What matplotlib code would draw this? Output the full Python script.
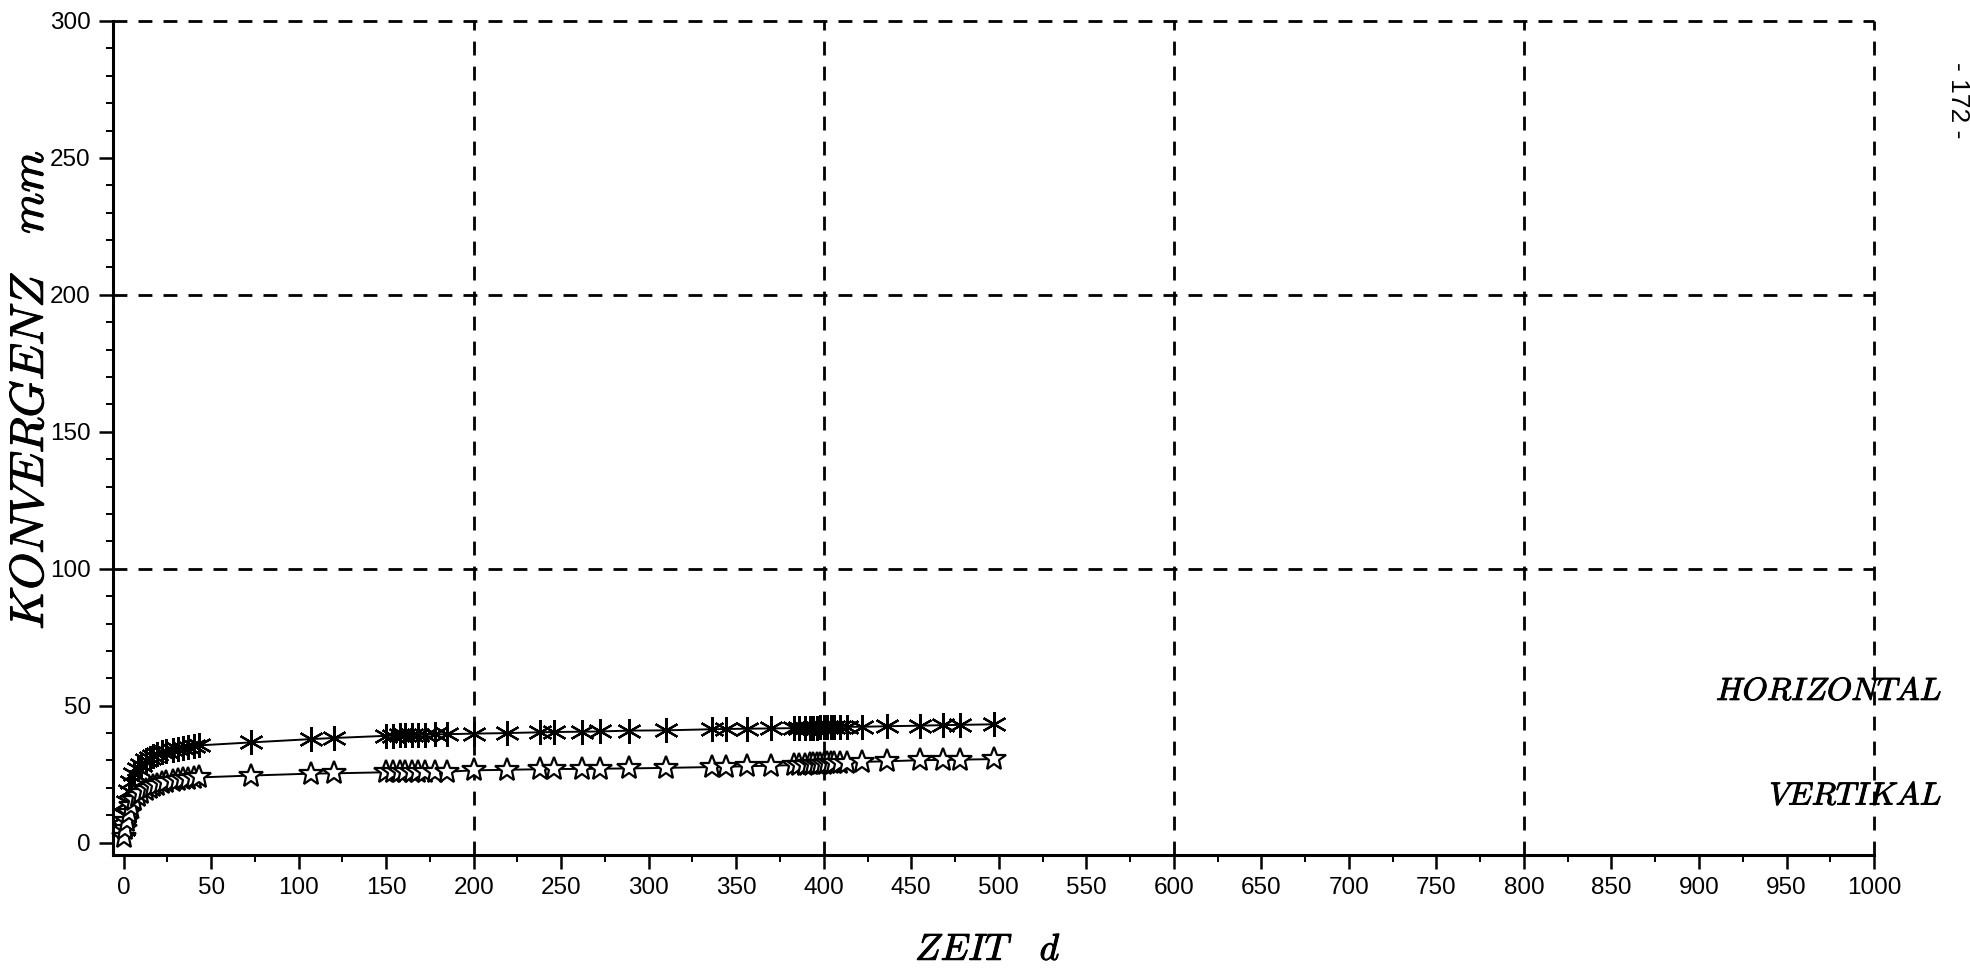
import matplotlib
matplotlib.use("Agg")
import matplotlib.pyplot as plt
import matplotlib.patheffects as pe
from matplotlib.ticker import MultipleLocator

plt.rcParams['mathtext.fontset'] = 'cm'
plt.rcParams['font.family'] = ['Liberation Sans', 'DejaVu Sans']

# measurement days (both series measured at the same times)
zeit = [0, 1, 2, 3, 4, 6, 8, 10, 13, 15, 17, 19, 22, 24, 28, 31, 34, 37, 40, 43,
        73, 107, 120, 150, 154, 158, 161, 165, 168, 172, 178, 185, 200, 219, 238,
        246, 262, 272, 289, 310, 336, 344, 356, 370, 383, 386, 389, 392, 394, 396,
        398, 400, 402, 404, 406, 409, 413, 422, 436, 455, 468, 478, 497]

horizontal = [5, 10, 15, 19, 22, 25, 27, 28.5, 30, 31, 31.8, 32.3, 33, 33.4, 34,
              34.3, 34.7, 35, 35.2, 35.5, 36.6, 37.8, 38.2, 39.0, 39.1, 39.2, 39.2,
              39.3, 39.4, 39.4, 39.5, 39.6, 39.8, 40.0, 40.3, 40.4, 40.5, 40.6, 40.9,
              41.0, 41.4, 41.5, 41.6, 41.7, 41.8, 41.9, 41.9, 42.0, 42.0, 42.0, 42.1,
              42.1, 42.1, 42.2, 42.2, 42.2, 42.3, 42.3, 42.5, 42.7, 42.9, 43.0, 43.2]

vertikal = [2, 5, 8, 11, 13.5, 15.5, 17, 18, 19.3, 20, 20.6, 21.1, 21.7, 22, 22.5,
            22.9, 23.2, 23.4, 23.6, 23.8, 24.5, 25.2, 25.3, 25.7, 25.7, 25.8, 25.8,
            25.8, 25.9, 25.9, 25.9, 25.9, 26.4, 26.6, 26.8, 26.9, 26.9, 27.0, 27.1,
            27.3, 27.6, 27.7, 27.9, 28.1, 28.3, 28.4, 28.5, 28.6, 28.6, 28.7, 28.8,
            28.8, 28.9, 28.9, 29.0, 29.1, 29.2, 29.5, 29.7, 30.1, 30.2, 30.3, 30.5]

fig = plt.figure(figsize=(19.7, 9.71), dpi=100)
ax = fig.add_axes([0.0574, 0.1195, 0.8939, 0.8589])

ax.plot(zeit, horizontal, color='black', lw=1.4, marker=(6, 2, 0), ms=18,
        mew=1.6, clip_on=False)
ax.plot(zeit, vertikal, color='black', lw=1.4, marker='*', ms=18,
        mfc='white', mec='black', mew=1.6, clip_on=False)

ax.set_xlim(-6, 1000)
ax.set_ylim(-4.5, 300)

for y in [100, 200, 300]:
    ax.axhline(y, color='black', lw=2, ls=(0, (5, 4)), zorder=0, clip_on=False)
for x in [200, 400, 600, 800, 1000]:
    ax.axvline(x, color='black', lw=2, ls=(0, (5, 4)), zorder=0, clip_on=False)

ax.spines['top'].set_visible(False)
ax.spines['right'].set_visible(False)
ax.spines['left'].set_linewidth(2.2)
ax.spines['bottom'].set_linewidth(2.2)

ax.xaxis.set_major_locator(MultipleLocator(50))
ax.xaxis.set_minor_locator(MultipleLocator(25))
ax.yaxis.set_major_locator(MultipleLocator(50))
ax.yaxis.set_minor_locator(MultipleLocator(10))
ax.tick_params(which='major', direction='out', length=10, width=1.8,
               labelsize=17.5, pad=6)
ax.tick_params(which='minor', direction='out', length=5, width=1.4)

thick = [pe.withStroke(linewidth=0.7, foreground='black')]

fig.text(31 / 1970, 1 - 390 / 971, r'$KONVERGENZ\ \ \ mm$', rotation=90,
         fontsize=34, ha='center', va='center', path_effects=thick)
fig.text(988 / 1970, 1 - 950 / 971, r'$ZEIT\ \ \ d$', fontsize=27,
         ha='center', va='center', path_effects=thick)

ax.text(1039, 55, r'$HORIZONTAL$', fontsize=23, ha='right', va='center',
        clip_on=False, path_effects=thick)
ax.text(1039, 16.8, r'$VERTIKAL$', fontsize=23, ha='right', va='center',
        clip_on=False, path_effects=thick)

fig.text(1958 / 1970, 1 - 100 / 971, '- 172 -', rotation=270, fontsize=19,
         ha='center', va='center')

fig.savefig('out.png', dpi=100)
